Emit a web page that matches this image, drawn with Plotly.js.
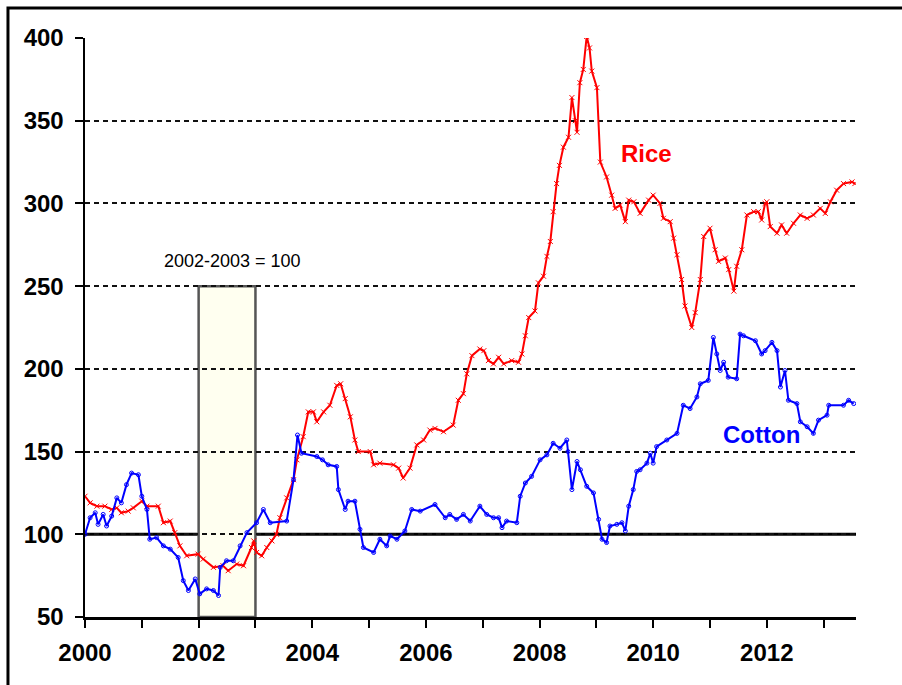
<!DOCTYPE html>
<html>
<head>
<meta charset="utf-8">
<script src="https://cdn.plot.ly/plotly-3.0.1.min.js"></script>
<style>html,body{margin:0;padding:0;background:#fff;}#chart{width:902px;height:685px;}</style>
</head>
<body>
<div id="chart"></div>
<script>
// Rice index (2002-2003 = 100)
const riceYears = [2000.00,2000.09,2000.21,2000.35,2000.47,2000.56,2000.64,2000.76,2000.85,2001.00,2001.09,2001.29,2001.38,2001.50,2001.58,2001.67,2001.79,2001.99,2002.08,2002.26,2002.43,2002.52,2002.67,2002.79,2002.93,2002.97,2003.02,2003.11,2003.20,2003.29,2003.37,2003.43,2003.55,2003.67,2003.73,2003.84,2003.93,2004.02,2004.08,2004.20,2004.31,2004.43,2004.50,2004.58,2004.67,2004.75,2004.81,2005.02,2005.08,2005.19,2005.43,2005.52,2005.60,2005.72,2005.84,2005.96,2006.07,2006.16,2006.31,2006.48,2006.57,2006.66,2006.72,2006.81,2006.95,2007.02,2007.10,2007.19,2007.28,2007.37,2007.51,2007.63,2007.69,2007.75,2007.81,2007.92,2007.98,2008.07,2008.13,2008.19,2008.24,2008.30,2008.35,2008.42,2008.51,2008.57,2008.63,2008.66,2008.71,2008.77,2008.83,2008.88,2008.92,2009.01,2009.07,2009.18,2009.27,2009.33,2009.42,2009.51,2009.57,2009.66,2009.77,2009.92,2010.00,2010.12,2010.18,2010.30,2010.36,2010.42,2010.50,2010.56,2010.68,2010.74,2010.83,2010.89,2011.00,2011.09,2011.15,2011.27,2011.33,2011.42,2011.47,2011.56,2011.65,2011.77,2011.85,2011.91,2011.97,2012.00,2012.06,2012.18,2012.26,2012.35,2012.47,2012.59,2012.71,2012.82,2012.94,2013.03,2013.12,2013.23,2013.35,2013.50,2013.55];
const riceValues = [123,119,117,117,115,116,113,114,116,120,117,117,107,108,101,93,87,88,85,80,81,78,82,81,92,96,89,87,92,96,100,110,122,133,145,159,174,174,168,174,178,190,191,182,171,157,150,150,142,143,142,140,134,140,154,157,163,164,162,166,181,185,197,208,212,211,205,203,207,203,205,204,209,220,231,235,252,256,268,277,295,312,323,334,340,364,350,343,373,381,401,394,380,370,325,316,305,297,299,289,302,301,294,302,305,300,291,289,279,269,254,238,225,234,254,280,285,272,265,267,260,247,262,272,293,295,295,290,300,301,286,282,287,282,288,293,291,293,297,294,301,308,312,313,312];

// Cotton index (2002-2003 = 100)
const cottonYears = [2000.00,2000.09,2000.18,2000.23,2000.32,2000.38,2000.47,2000.56,2000.64,2000.73,2000.82,2000.94,2001.00,2001.09,2001.14,2001.26,2001.38,2001.50,2001.64,2001.73,2001.82,2001.94,2002.02,2002.14,2002.26,2002.35,2002.38,2002.49,2002.61,2002.73,2002.85,2003.02,2003.14,2003.26,2003.55,2003.67,2003.74,2003.81,2004.08,2004.18,2004.28,2004.43,2004.46,2004.58,2004.63,2004.75,2004.84,2004.90,2005.08,2005.19,2005.31,2005.37,2005.49,2005.63,2005.75,2005.90,2006.16,2006.34,2006.42,2006.54,2006.66,2006.78,2006.95,2007.07,2007.19,2007.28,2007.34,2007.42,2007.60,2007.66,2007.75,2007.86,2008.01,2008.13,2008.24,2008.36,2008.48,2008.50,2008.57,2008.66,2008.72,2008.83,2008.95,2009.04,2009.10,2009.18,2009.24,2009.36,2009.45,2009.51,2009.57,2009.65,2009.71,2009.77,2009.89,2009.95,2010.00,2010.06,2010.24,2010.42,2010.53,2010.65,2010.77,2010.83,2010.97,2011.06,2011.12,2011.18,2011.24,2011.32,2011.47,2011.53,2011.59,2011.80,2011.91,2011.97,2012.09,2012.18,2012.24,2012.32,2012.38,2012.53,2012.59,2012.71,2012.82,2012.91,2013.06,2013.09,2013.35,2013.44,2013.53];
const cottonValues = [100,110,113,106,112,105,111,122,119,130,137,136,123,115,97,98,93,91,86,72,66,73,64,67,66,63,80,84,84,93,101,107,115,107,108,133,160,149,147,145,142,141,127,115,120,120,103,92,89,97,93,99,97,102,115,114,118,110,112,109,112,108,117,112,110,110,104,108,107,123,131,135,145,148,155,152,157,150,127,144,139,129,125,109,97,95,105,106,107,102,117,127,138,139,143,149,143,153,157,161,178,176,183,191,193,219,209,199,204,195,194,221,220,217,209,211,216,211,189,199,181,179,168,165,161,169,172,178,178,181,179];

const yTicks = [50,100,150,200,250,300,350,400];
const xTicks = [2000,2002,2004,2006,2008,2010,2012];
const baseLabel = "2002-2003 = 100";
const riceLabel = "Rice";
const cottonLabel = "Cotton";

const traces = [
  {x: riceYears, y: riceValues, type: 'scatter', mode: 'lines+markers', name: riceLabel,
   line: {color: '#FF0000', width: 2}, marker: {symbol: 'x-thin-open', size: 5, color: '#FF0000', line: {color: '#FF0000', width: 1}}},
  {x: cottonYears, y: cottonValues, type: 'scatter', mode: 'lines+markers', name: cottonLabel,
   line: {color: '#0000FF', width: 2}, marker: {symbol: 'circle-open', size: 4, color: '#0000FF', line: {color: '#0000FF', width: 1}}}
];

const tickFont = {family: 'Liberation Sans, Arial, sans-serif', size: 24, color: '#000', weight: 700};

const layout = {
  width: 902, height: 685,
  margin: {l: 85, r: 46, t: 38, b: 68},
  paper_bgcolor: '#fff', plot_bgcolor: '#fff',
  showlegend: false,
  xaxis: {
    range: [2000, 2013.57], tickvals: xTicks, ticktext: xTicks.map(String),
    ticks: 'outside', ticklen: 8, tickwidth: 2, tickcolor: '#000',
    showline: true, linecolor: '#000', linewidth: 2.5, mirror: false,
    showgrid: false, zeroline: false, tickfont: tickFont, ticklabelstandoff: 5,
    minor: {dtick: 1, tick0: 2000, ticks: 'outside', ticklen: 8, tickwidth: 2, tickcolor: '#000', showgrid: false}
  },
  yaxis: {
    range: [50, 400], tickvals: yTicks, ticktext: yTicks.map(String),
    ticks: 'outside', ticklen: 8, tickwidth: 2, tickcolor: '#000',
    showline: true, linecolor: '#000', linewidth: 2.5,
    showgrid: true, gridcolor: '#111', gridwidth: 2, griddash: '5px,4px',
    zeroline: false, tickfont: tickFont, ticklabelstandoff: 6
  },
  shapes: [
    {type: 'rect', xref: 'x', yref: 'y', x0: 2002, x1: 2003, y0: 50, y1: 250, layer: 'below',
     fillcolor: '#FFFFF0', line: {color: '#555', width: 2.5}},
    {type: 'line', xref: 'paper', yref: 'y', x0: 0, x1: 1, y0: 100, y1: 100, layer: 'below',
     line: {color: '#000', width: 3}},
    {type: 'rect', xref: 'paper', yref: 'paper', x0: -0.0999, x1: 1.2, y0: -0.3, y1: 1.0518,
     line: {color: '#000', width: 3}, fillcolor: 'rgba(0,0,0,0)'}
  ],
  annotations: [
    {x: 2002.6, y: 258, xref: 'x', yref: 'y', text: baseLabel, showarrow: false, yanchor: 'bottom',
     font: {family: 'Liberation Sans, Arial, sans-serif', size: 18, color: '#000'}},
    {x: 2009.88, y: 330, xref: 'x', yref: 'y', text: riceLabel, showarrow: false,
     font: {family: 'Liberation Sans, Arial, sans-serif', size: 24, color: '#FF0000', weight: 700}},
    {x: 2011.9, y: 160.6, xref: 'x', yref: 'y', text: cottonLabel, showarrow: false,
     font: {family: 'Liberation Sans, Arial, sans-serif', size: 24, color: '#0000FF', weight: 700}}
  ]
};

Plotly.newPlot('chart', traces, layout, {displayModeBar: false, staticPlot: true});
</script>
</body>
</html>
